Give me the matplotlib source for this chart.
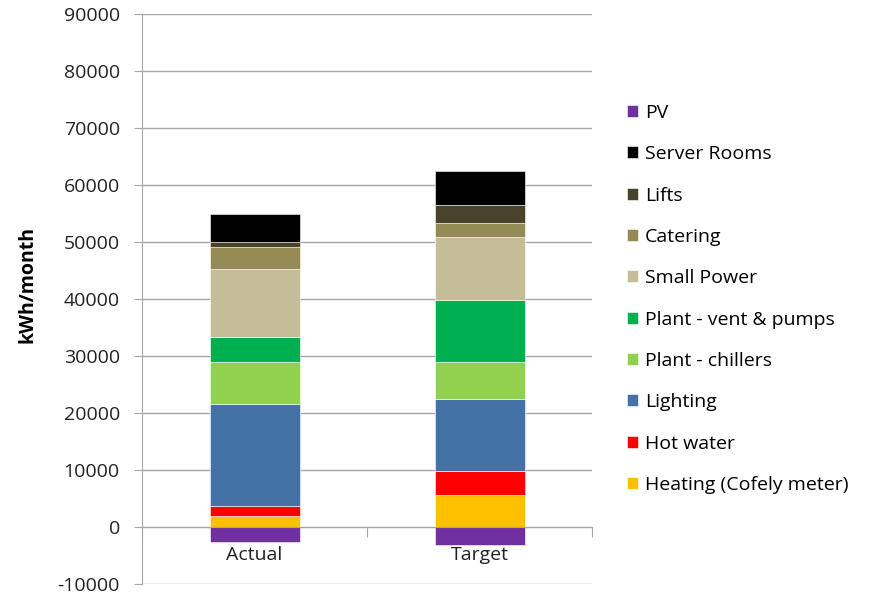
import matplotlib.pyplot as plt

plt.rcParams['font.family'] = ['Open Sans', 'DejaVu Sans']
plt.rcParams['axes.unicode_minus'] = False

categories = ['Actual', 'Target']

# stacked from the bottom up (PV is negative and hangs below zero)
series_names = ['Heating (Cofely meter)', 'Hot water', 'Lighting', 'Plant - chillers',
                'Plant - vent & pumps', 'Small Power', 'Catering', 'Lifts',
                'Server Rooms', 'PV']
heating = [1900, 5650]
hot_water = [1850, 4100]
lighting = [17900, 12700]
chillers = [7350, 6550]
vent_pumps = [4250, 10800]
small_power = [12050, 11150]
catering = [3900, 2350]
lifts = [800, 3250]
server_rooms = [4950, 5950]
pv = [-2600, -3150]

colors = ['#FFC000', '#FF0000', '#4472A6', '#92D050', '#00B050', '#C4BD97',
          '#948A54', '#494429', '#000000', '#7030A0']

values = [heating, hot_water, lighting, chillers, vent_pumps, small_power,
          catering, lifts, server_rooms, pv]

fig = plt.figure(figsize=(8.71, 5.96), dpi=100)
ax = fig.add_axes([142 / 871, 1 - 584 / 596, 450 / 871, 570 / 596])

x = list(range(len(categories)))
bottom = [0, 0]
handles = []
for name, vals, col in zip(series_names, values, colors):
    if vals[0] < 0:
        b = ax.bar(x, vals, width=0.4, color=col, label=name, zorder=3,
                   edgecolor='white', linewidth=0.4)
    else:
        b = ax.bar(x, vals, width=0.4, bottom=bottom, color=col, label=name,
                   zorder=3, edgecolor='white', linewidth=0.4)
        bottom = [bt + v for bt, v in zip(bottom, vals)]
    handles.append(b)

ax.set_xlim(-0.5, 1.5)
ax.set_ylim(-10000, 90000)
ax.set_yticks(range(-10000, 90001, 10000))
ax.yaxis.grid(True, color='#A6A6A6', linewidth=1, zorder=0)
ax.tick_params(axis='y', length=6, color='#A6A6A6', labelsize=14,
               labelcolor='#222222', pad=10)

for s in ['top', 'right']:
    ax.spines[s].set_visible(False)
ax.spines['left'].set_color('#A6A6A6')
ax.spines['bottom'].set_position(('data', 0))
ax.spines['bottom'].set_color('#A6A6A6')
ax.spines['bottom'].set_zorder(4)

# category boundaries as ticks, names at the centres
ax.set_xticks([-0.5, 0.5, 1.5])
ax.set_xticklabels([])
ax.set_xticks(x, minor=True)
ax.set_xticklabels(categories, minor=True)
ax.tick_params(axis='x', which='major', direction='out', length=7,
               color='#A6A6A6')
ax.tick_params(axis='x', which='minor', length=0, pad=14, labelsize=14,
               labelcolor='#222222')

ax.set_ylabel('kWh/month', fontsize=14, fontweight='bold')
ax.yaxis.set_label_coords(-0.232, 0.525)

ax.legend(handles[::-1], series_names[::-1], loc='center left',
          bbox_to_anchor=(627 / 871, 1 - 299 / 596), bbox_transform=fig.transFigure,
          frameon=False, fontsize=14, handlelength=0.57, handleheight=0.57,
          handletextpad=0.35, labelspacing=1.2, borderaxespad=0, borderpad=0)

fig.savefig('out.png', dpi=100)
